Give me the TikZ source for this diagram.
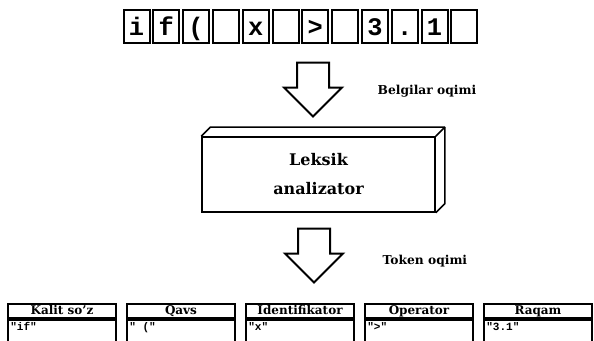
\documentclass[tikz,border=0pt]{standalone}
\usepackage{fontspec}
\setmainfont{DejaVu Serif}
\setmonofont{Liberation Mono}
\usetikzlibrary{shapes.arrows,positioning}

\tikzset{
  charbox/.style={draw,line width=1.5pt,minimum width=19.5pt,minimum height=24.75pt,
    inner sep=0pt,text height=13pt,text depth=0pt,
    font=\ttfamily\bfseries\fontsize{19}{19}\selectfont},
  flowarrow/.style={single arrow,draw,line width=1.5pt,rotate=-90,anchor=tip,
    inner xsep=0pt,inner ysep=11.25pt,minimum width=42pt,minimum height=40.5pt,
    single arrow head extend=9.75pt,single arrow tip angle=90},
  flowlabel/.style={font=\bfseries\fontsize{9.2}{10}\selectfont,anchor=west},
  lexerbox/.style={draw,line width=1.2pt,minimum width=174.75pt,minimum height=56.25pt,
    align=center,font=\bfseries\fontsize{12}{21.75}\selectfont},
  tokhead/.style={draw,line width=1.5pt,minimum width=81pt,minimum height=10.5pt,inner sep=0pt,
    text height=7pt,text depth=1.8pt,font=\bfseries\fontsize{9}{9}\selectfont},
  tokbody/.style={draw,line width=1.5pt,minimum width=81pt,minimum height=24pt,anchor=north},
  tokval/.style={inner sep=0pt,anchor=north west,font=\ttfamily\bfseries\fontsize{8.3}{9}\selectfont}
}

\begin{document}
\begin{tikzpicture}[x=0.75pt,y=-0.75pt]
  \clip (0,0) rectangle (594,341);

  % input characters
  \node[charbox] (c0)  at (136.5,26.5) {i};
  \node[charbox] (c1)  at (166.3,26.5) {f};
  \node[charbox] (c2)  at (196.1,26.5) {(};
  \node[charbox] (c3)  at (225.9,26.5) {};
  \node[charbox] (c4)  at (255.7,26.5) {x};
  \node[charbox] (c5)  at (285.5,26.5) {};
  \node[charbox] (c6)  at (315.3,26.5) {>};
  \node[charbox] (c7)  at (345.1,26.5) {};
  \node[charbox] (c8)  at (374.9,26.5) {3};
  \node[charbox] (c9)  at (404.7,26.5) {.};
  \node[charbox] (c10) at (434.5,26.5) {1};
  \node[charbox] (c11) at (464.3,26.5) {};

  \node[flowarrow] (inarrow) at (313,118) {};
  \node[flowlabel] (inlabel) at (373,91) {Belgilar oqimi};

  % lexer block
  \node[lexerbox] (lexer) at (318.5,174.5) {Leksik\\analizator};
  \draw[line width=1.2pt,line join=round] (lexer.north west) -- ++(9,-9)
    -- ([shift={(9,-9)}]lexer.north east) -- ([shift={(9,-9)}]lexer.south east)
    -- (lexer.south east);
  \draw[line width=1.2pt] (lexer.north east) -- ++(9,-9);

  \node[flowarrow] (outarrow) at (314,284) {};
  \node[flowlabel] (outlabel) at (378,261) {Token oqimi};

  % token tables
  \node[tokhead] (h1) at (62,311)  {Kalit so'z};
  \node[tokhead] (h2) at (181,311) {Qavs};
  \node[tokhead] (h3) at (300,311) {Identifikator};
  \node[tokhead] (h4) at (419,311) {Operator};
  \node[tokhead] (h5) at (538,311) {Raqam};
  \node[tokbody] (b1) at (h1.south) {};
  \node[tokbody] (b2) at (h2.south) {};
  \node[tokbody] (b3) at (h3.south) {};
  \node[tokbody] (b4) at (h4.south) {};
  \node[tokbody] (b5) at (h5.south) {};
  \node[tokval] (v1) at ([shift={(3,3)}]b1.north west) {"if"};
  \node[tokval] (v2) at ([shift={(3,3)}]b2.north west) {" ("};
  \node[tokval] (v3) at ([shift={(3,3)}]b3.north west) {"x"};
  \node[tokval] (v4) at ([shift={(3,3)}]b4.north west) {">"};
  \node[tokval] (v5) at ([shift={(3,3)}]b5.north west) {"3.1"};
\end{tikzpicture}
\end{document}
